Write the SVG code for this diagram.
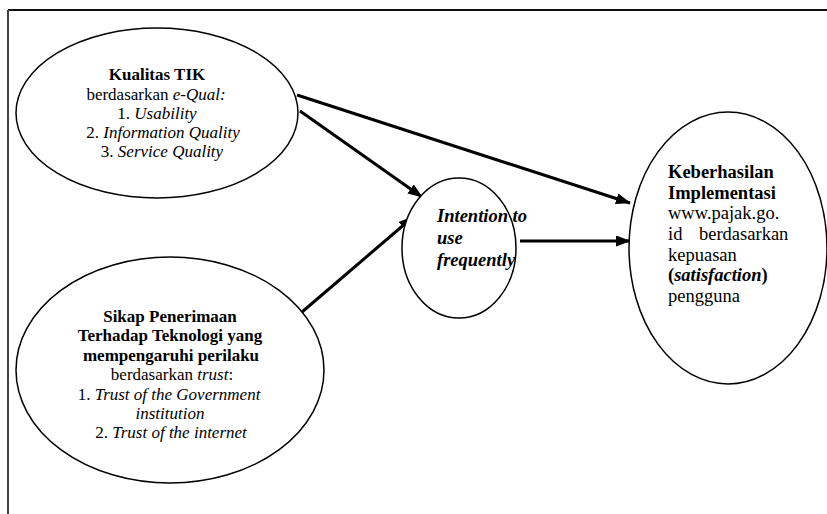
<svg xmlns="http://www.w3.org/2000/svg" width="827" height="514" viewBox="0 0 827 514">
<style>
.e{fill:#fff;stroke:#000;stroke-width:1.5}
.t{font-family:"Liberation Serif","Times New Roman",Times,serif;font-size:17px;fill:#000}
.c{text-anchor:middle}
.b{font-weight:bold}
.i{font-style:italic}
.r{font-size:18.5px}
.c2{stroke:#000;stroke-width:3;fill:none;marker-end:url(#ah)}
</style>
<defs>
<marker id="ah" markerWidth="15" markerHeight="11" refX="14" refY="5.5" orient="auto" markerUnits="userSpaceOnUse">
<path d="M0,0 L15,5.5 L0,11 Z" fill="#000"/>
</marker>
</defs>
<g id="frame">
<line x1="8" y1="10" x2="827" y2="10" stroke="#111" stroke-width="2"/>
<line x1="8" y1="10" x2="8" y2="514" stroke="#444" stroke-width="2"/>
</g>
<g id="connectors">
<line class="c2" x1="297" y1="95" x2="630" y2="203"/>
<line class="c2" x1="300" y1="111" x2="422" y2="197"/>
<line class="c2" x1="302" y1="312" x2="413" y2="217"/>
<line class="c2" x1="520" y1="241" x2="630" y2="241"/>
</g>
<g id="kualitas">
<ellipse class="e" cx="157" cy="113" rx="141" ry="85"/>
<text class="t c b" x="157" y="80">Kualitas TIK</text>
<text class="t c" x="156" y="100">berdasarkan <tspan class="i">e-Qual:</tspan></text>
<text class="t c" x="157" y="119">1. <tspan class="i">Usability</tspan></text>
<text class="t c" x="163" y="138">2. <tspan class="i">Information Quality</tspan></text>
<text class="t c" x="162" y="157">3. <tspan class="i">Service Quality</tspan></text>
</g>
<g id="sikap">
<ellipse class="e" cx="170" cy="370" rx="154" ry="113"/>
<text class="t c b" x="170" y="322">Sikap Penerimaan</text>
<text class="t c b" x="170" y="341">Terhadap Teknologi yang</text>
<text class="t c b" x="171" y="361">mempengaruhi perilaku</text>
<text class="t c" x="172" y="380">berdasarkan <tspan class="i">trust</tspan>:</text>
<text class="t c" x="169" y="400">1. <tspan class="i">Trust of the Government</tspan></text>
<text class="t c i" x="170" y="419">institution</text>
<text class="t c" x="171" y="438">2. <tspan class="i">Trust of the internet</tspan></text>
</g>
<g id="intention">
<ellipse class="e" cx="459" cy="248" rx="57" ry="70"/>
<text class="t b i r" x="437" y="222">Intention to</text>
<text class="t b i r" x="437" y="244">use</text>
<text class="t b i r" x="437" y="266">frequently</text>
</g>
<g id="keberhasilan">
<ellipse class="e" cx="728" cy="248" rx="99" ry="136"/>
<text class="t b r" x="668" y="178">Keberhasilan</text>
<text class="t b r" x="668" y="199">Implementasi</text>
<text class="t r" x="668" y="219">www.pajak.go.</text>
<text class="t r" x="668" y="240">id<tspan x="699">berdasarkan</tspan></text>
<text class="t r" x="668" y="261">kepuasan</text>
<text class="t r" x="668" y="281"><tspan class="b">(</tspan><tspan class="b i">satisfaction</tspan><tspan class="b">)</tspan></text>
<text class="t r" x="668" y="302">pengguna</text>
</g>
</svg>
